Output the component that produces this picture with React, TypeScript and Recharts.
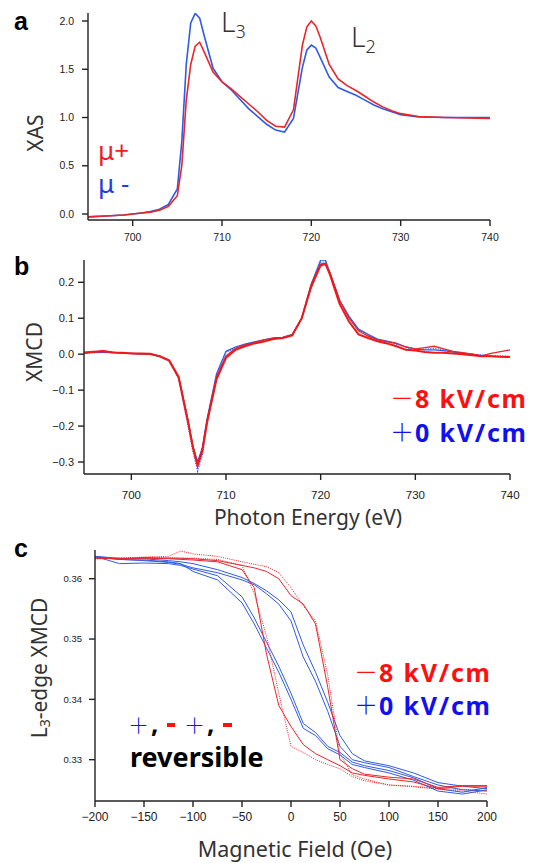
import React from 'react';
import { LineChart, Line, XAxis, YAxis } from 'recharts';

// ---------- Panel a: XAS ----------
const energyA = [695, 697, 699, 700, 701, 702, 703, 704, 705, 705.5, 706, 706.5, 707, 707.5, 708, 709, 710, 711, 712, 713, 714, 715, 716, 717, 718, 719, 719.5, 720, 720.5, 721, 722, 723, 724, 725, 726, 727, 728, 729, 730, 732, 735, 740];
const muPlus = [-0.03, -0.02, -0.01, 0.0, 0.01, 0.02, 0.04, 0.08, 0.19, 0.5, 1.18, 1.55, 1.74, 1.78, 1.68, 1.47, 1.37, 1.3, 1.22, 1.14, 1.06, 0.97, 0.91, 0.9, 1.08, 1.75, 1.94, 2.0, 1.95, 1.83, 1.55, 1.4, 1.33, 1.28, 1.22, 1.16, 1.11, 1.07, 1.04, 1.01, 1.0, 0.99];
const muMinus = [-0.03, -0.02, -0.01, 0.0, 0.01, 0.025, 0.05, 0.1, 0.26, 0.75, 1.55, 1.98, 2.08, 2.03, 1.85, 1.51, 1.37, 1.29, 1.19, 1.09, 1.01, 0.93, 0.87, 0.85, 0.99, 1.52, 1.7, 1.75, 1.72, 1.62, 1.42, 1.31, 1.27, 1.23, 1.18, 1.13, 1.09, 1.06, 1.03, 1.005, 1.0, 1.0];

// ---------- Panel b: XMCD ----------
const energyB = [695, 696, 697, 698, 699, 700, 701, 702, 703, 704, 705, 706, 706.5, 707, 707.5, 708, 709, 710, 711, 712, 713, 714, 715, 716, 717, 718, 719, 720, 720.5, 721, 722, 723, 724, 725, 726, 727, 728, 729, 730, 731, 732, 733, 734, 735, 736, 737, 738, 739, 740];
const xmcdRedA = [0.005, 0.007, 0.008, 0.005, 0.004, 0.002, 0.002, 0.001, -0.006, -0.018, -0.065, -0.19, -0.26, -0.31, -0.27, -0.19, -0.07, -0.01, 0.012, 0.022, 0.03, 0.035, 0.042, 0.045, 0.052, 0.1, 0.19, 0.25, 0.252, 0.22, 0.14, 0.09, 0.055, 0.045, 0.036, 0.03, 0.022, 0.012, 0.01, 0.006, 0.004, 0.004, 0.002, 0.0, -0.003, -0.006, -0.006, -0.007, -0.008];
const xmcdRedB = [0.004, 0.006, 0.01, 0.006, 0.003, 0.002, 0.001, 0.0, -0.005, -0.016, -0.062, -0.185, -0.255, -0.305, -0.265, -0.185, -0.065, -0.005, 0.016, 0.026, 0.032, 0.04, 0.044, 0.047, 0.054, 0.1, 0.185, 0.245, 0.25, 0.225, 0.15, 0.1, 0.065, 0.05, 0.04, 0.035, 0.03, 0.02, 0.015, 0.018, 0.022, 0.015, 0.008, 0.004, 0.0, -0.005, 0.002, 0.007, 0.012];
const xmcdBlueA = [0.003, 0.005, 0.006, 0.005, 0.003, 0.002, 0.001, 0.0, -0.006, -0.017, -0.063, -0.19, -0.255, -0.3, -0.26, -0.18, -0.055, 0.008, 0.02, 0.028, 0.034, 0.04, 0.045, 0.047, 0.055, 0.1, 0.195, 0.262, 0.262, 0.225, 0.15, 0.105, 0.07, 0.055, 0.042, 0.036, 0.03, 0.02, 0.014, 0.012, 0.012, 0.01, 0.006, 0.003, 0.0, -0.004, -0.006, -0.007, -0.008];
const xmcdBlueB = [0.002, 0.004, 0.005, 0.004, 0.003, 0.002, 0.0, -0.001, -0.007, -0.019, -0.068, -0.2, -0.27, -0.325, -0.28, -0.19, -0.06, 0.005, 0.018, 0.027, 0.033, 0.039, 0.044, 0.046, 0.053, 0.098, 0.19, 0.255, 0.258, 0.222, 0.148, 0.102, 0.068, 0.052, 0.04, 0.034, 0.028, 0.019, 0.013, 0.014, 0.016, 0.012, 0.007, 0.003, 0.0, -0.002, -0.004, -0.005, -0.006];

// ---------- Panel c: hysteresis ----------
const fieldC = [-200, -175, -150, -125, -112.5, -100, -75, -50, -37.5, -25, -12.5, 0, 12.5, 25, 37.5, 50, 62.5, 75, 100, 125, 150, 175, 200];
const redLoop1Up = [0.3634, 0.3633, 0.3635, 0.3634, 0.3634, 0.3633, 0.363, 0.3622, 0.3618, 0.3612, 0.36, 0.3572, 0.3558, 0.3525, 0.342, 0.33, 0.3285, 0.3276, 0.3271, 0.3268, 0.3254, 0.3257, 0.3257];
const redLoop1Down = [0.3634, 0.3633, 0.3634, 0.3633, 0.3632, 0.3631, 0.3628, 0.3615, 0.3585, 0.3475, 0.339, 0.3355, 0.3325, 0.331, 0.33, 0.329, 0.3278, 0.3274, 0.3268, 0.3263, 0.3252, 0.3256, 0.3256];
const redLoop2Up = [0.3633, 0.3634, 0.3636, 0.3637, 0.3646, 0.3641, 0.3637, 0.3628, 0.3624, 0.362, 0.361, 0.3585, 0.3555, 0.353, 0.344, 0.331, 0.3275, 0.3268, 0.3258, 0.3255, 0.3251, 0.3248, 0.3243];
const redLoop2Down = [0.3633, 0.3634, 0.3635, 0.3635, 0.3634, 0.3634, 0.3632, 0.3622, 0.3575, 0.3505, 0.341, 0.3322, 0.3312, 0.33, 0.3292, 0.3285, 0.3272, 0.3265, 0.3258, 0.3256, 0.3252, 0.3251, 0.3249];
const blueLoop1Up = [0.3637, 0.3634, 0.3633, 0.363, 0.3628, 0.3625, 0.3615, 0.3602, 0.3592, 0.358, 0.3565, 0.3545, 0.349, 0.3445, 0.3395, 0.334, 0.331, 0.3298, 0.329, 0.3278, 0.3262, 0.3256, 0.3252];
const blueLoop1Down = [0.3637, 0.3625, 0.3626, 0.3625, 0.3622, 0.3616, 0.3605, 0.357, 0.3535, 0.3495, 0.3455, 0.341, 0.336, 0.3345, 0.3322, 0.3312, 0.3296, 0.329, 0.3282, 0.327, 0.3252, 0.3246, 0.3254];
const blueLoop2Up = [0.3636, 0.3632, 0.363, 0.3627, 0.3624, 0.3618, 0.361, 0.3598, 0.359, 0.3575, 0.3558, 0.353, 0.347, 0.343, 0.338, 0.3322, 0.33, 0.3295, 0.3287, 0.3272, 0.3258, 0.325, 0.3248];
const blueLoop2Down = [0.3637, 0.3632, 0.3631, 0.3628, 0.3625, 0.3612, 0.3598, 0.356, 0.3525, 0.3485, 0.3445, 0.34, 0.3352, 0.334, 0.3318, 0.3308, 0.3292, 0.3287, 0.3278, 0.3266, 0.3248, 0.3243, 0.325];

// ---------- ticks ----------
const energyTicks = [700, 710, 720, 730, 740];
const xasTicks = [0, 0.5, 1.0, 1.5, 2.0];
const xmcdTicks = [-0.3, -0.2, -0.1, 0, 0.1, 0.2];
const fieldTicks = [-200, -150, -100, -50, 0, 50, 100, 150, 200];
const l3Ticks = [0.33, 0.34, 0.35, 0.36];

const dataA = energyA.map((e, i) => ({ e, plus: muPlus[i], minus: muMinus[i] }));
const dataB = energyB.map((e, i) => ({ e, r1: xmcdRedA[i], r2: xmcdRedB[i], b1: xmcdBlueA[i], b2: xmcdBlueB[i] }));
const dataC = fieldC.map((f, i) => ({
  f,
  r1u: redLoop1Up[i], r1d: redLoop1Down[i], r2u: redLoop2Up[i], r2d: redLoop2Down[i],
  b1u: blueLoop1Up[i], b1d: blueLoop1Down[i], b2u: blueLoop2Up[i], b2d: blueLoop2Down[i],
}));

const AX = '#222';
const TICKFONT = 'Liberation Sans, Arial, sans-serif';
const TITLEFONT = 'Noto Sans, sans-serif';
const CJK = 'Noto Sans CJK JP, sans-serif';
const RED_LINE = '#e8262c';
const BLUE_LINE = '#2f5be6';
const RED_TXT = '#ff1010';
const BLUE_TXT = '#1010f0';

const minusFmt = (v: number, d: number) => (v < 0 ? '\u2212' + Math.abs(v).toFixed(d) : v.toFixed(d));

const axisCommon = {
  axisLine: { stroke: AX, strokeWidth: 1.4 },
  tickLine: { stroke: AX, strokeWidth: 1.4 },
  tickSize: 6,
};

function Legend({ x, y1, y2 }: { x: number; y1: number; y2: number }) {
  return (
    <g>
      <text x={x - 2} y={y1 - 1} fontFamily={CJK} fontWeight={300} fontSize={24} fill={RED_TXT}>{'\uFF0D'}</text>
      <text x={x + 23} y={y1} fontFamily={TITLEFONT} fontWeight={700} fontSize={25} fill={RED_TXT}
        textLength={111} lengthAdjust="spacing">8 kV/cm</text>
      <text x={x - 2} y={y2 - 1} fontFamily={CJK} fontWeight={300} fontSize={24} fill={BLUE_TXT}>{'\uFF0B'}</text>
      <text x={x + 23} y={y2} fontFamily={TITLEFONT} fontWeight={700} fontSize={25} fill={BLUE_TXT}
        textLength={111} lengthAdjust="spacing">0 kV/cm</text>
    </g>
  );
}

export default function App() {
  return (
    <div style={{ position: 'absolute', left: 0, top: 0, width: 534, height: 863, background: '#fff' }}>
      {/* Panel a */}
      <div style={{ position: 'absolute', left: 0, top: 0 }}>
        <LineChart width={534} height={260} data={dataA} margin={{ top: 13, right: 44, left: 0, bottom: 0 }}>
          <XAxis dataKey="e" type="number" domain={[695, 740]} ticks={energyTicks} allowDataOverflow
            {...axisCommon} tickMargin={8} height={40}
            tick={{ fill: AX, fontSize: 10.5, fontFamily: TICKFONT }} />
          <YAxis type="number" domain={[-0.062, 2.083]} ticks={xasTicks} allowDataOverflow
            {...axisCommon} tickMargin={8} width={88}
            tickFormatter={(v: number) => v.toFixed(1)}
            tick={{ fill: AX, fontSize: 10.5, fontFamily: TICKFONT }}
            label={{ content: () => (
              <text x={35} y={133} transform="rotate(-90 35 133)" textAnchor="middle" dominantBaseline="central"
                fontFamily={TITLEFONT} fontSize={21} fill="#333">XAS</text>
            ) }} />
          <Line dataKey="minus" stroke={BLUE_LINE} strokeWidth={1.6} dot={false} isAnimationActive={false} />
          <Line dataKey="plus" stroke={RED_LINE} strokeWidth={1.6} dot={false} isAnimationActive={false} />
        </LineChart>
      </div>

      {/* Panel b */}
      <div style={{ position: 'absolute', left: 0, top: 245 }}>
        <LineChart width={534} height={290} data={dataB} margin={{ top: 15, right: 24, left: 0, bottom: 0 }}>
          <XAxis dataKey="e" type="number" domain={[695, 740]} ticks={energyTicks} allowDataOverflow
            {...axisCommon} tickMargin={11} height={61}
            tick={{ fill: AX, fontSize: 11.5, fontFamily: TICKFONT }}
            label={{ content: () => (
              <text x={308} y={280} textAnchor="middle" fontFamily={TITLEFONT} fontSize={21} fill="#333">Photon Energy (eV)</text>
            ) }} />
          <YAxis type="number" domain={[-0.3333, 0.262]} ticks={xmcdTicks} allowDataOverflow
            {...axisCommon} tickMargin={4} width={84}
            tickFormatter={(v: number) => minusFmt(v, 1)}
            tick={{ fill: AX, fontSize: 11, fontFamily: TICKFONT }}
            label={{ content: () => (
              <text x={34} y={107} transform="rotate(-90 34 107)" textAnchor="middle" dominantBaseline="central"
                fontFamily={TITLEFONT} fontSize={21} fill="#333">XMCD</text>
            ) }} />
          <Line dataKey="b2" stroke={BLUE_LINE} strokeWidth={1.4} strokeDasharray="1 1.5" dot={false} isAnimationActive={false} />
          <Line dataKey="b1" stroke={BLUE_LINE} strokeWidth={1.3} dot={false} isAnimationActive={false} />
          <Line dataKey="r2" stroke={RED_LINE} strokeWidth={1.3} dot={false} isAnimationActive={false} />
          <Line dataKey="r1" stroke="#f01818" strokeWidth={2} dot={false} isAnimationActive={false} />
        </LineChart>
      </div>

      {/* Panel c */}
      <div style={{ position: 'absolute', left: 0, top: 535 }}>
        <LineChart width={534} height={328} data={dataC} margin={{ top: 15, right: 47, left: 0, bottom: 0 }}>
          <XAxis dataKey="f" type="number" domain={[-200, 200]} ticks={fieldTicks} allowDataOverflow
            {...axisCommon} tickMargin={5} height={62}
            tickFormatter={(v: number) => minusFmt(v, 0)}
            tick={{ fill: AX, fontSize: 12, fontFamily: TICKFONT }}
            label={{ content: () => (
              <text x={295} y={322} textAnchor="middle" fontFamily={TITLEFONT} fontSize={21.5} fill="#333">Magnetic Field (Oe)</text>
            ) }} />
          <YAxis type="number" domain={[0.32315, 0.36476]} ticks={l3Ticks} allowDataOverflow
            {...axisCommon} tickMargin={7} width={95}
            tickFormatter={(v: number) => v.toFixed(2)}
            tick={{ fill: AX, fontSize: 9.5, fontFamily: TICKFONT }}
            label={{ content: () => (
              <text x={39} y={133} transform="rotate(-90 39 133)" textAnchor="middle" dominantBaseline="central"
                fontFamily={TITLEFONT} fontSize={21} fill="#333">
                L<tspan fontSize={14} dy={5}>3</tspan><tspan dy={-5}>-edge XMCD</tspan>
              </text>
            ) }} />
          <Line dataKey="b1u" stroke={BLUE_LINE} strokeWidth={1} dot={false} isAnimationActive={false} />
          <Line dataKey="b1d" stroke={BLUE_LINE} strokeWidth={1} dot={false} isAnimationActive={false} />
          <Line dataKey="b2u" stroke={BLUE_LINE} strokeWidth={1} dot={false} isAnimationActive={false} />
          <Line dataKey="b2d" stroke={BLUE_LINE} strokeWidth={1} dot={false} isAnimationActive={false} />
          <Line dataKey="r1u" stroke={RED_LINE} strokeWidth={1} dot={false} isAnimationActive={false} />
          <Line dataKey="r1d" stroke={RED_LINE} strokeWidth={1} dot={false} isAnimationActive={false} />
          <Line dataKey="r2u" stroke={RED_LINE} strokeWidth={1} strokeDasharray="1 1.2" dot={false} isAnimationActive={false} />
          <Line dataKey="r2d" stroke={RED_LINE} strokeWidth={1} strokeDasharray="1 1.2" dot={false} isAnimationActive={false} />
        </LineChart>
      </div>

      {/* Annotations */}
      <svg width={534} height={863} style={{ position: 'absolute', left: 0, top: 0, pointerEvents: 'none' }}>
        <g fontFamily="Liberation Sans, Arial, sans-serif" fontWeight={700} fontSize={25} fill="#000">
          <text x={14} y={30}>a</text>
          <text x={14} y={275}>b</text>
          <text x={14} y={557}>c</text>
        </g>
        <g fontFamily={TITLEFONT} fill="#333">
          <text x={221} y={32} fontSize={28} fontWeight={300}>L<tspan fontSize={18} dy={6}>3</tspan></text>
          <text x={351} y={47} fontSize={28} fontWeight={300}>L<tspan fontSize={18} dy={6}>2</tspan></text>
        </g>
        <g fontFamily={TITLEFONT} fontSize={26}>
          <text x={98} y={160} fill="#ee1c24">μ+</text>
          <text x={98} y={193} fill="#1e3ce6">μ -</text>
        </g>
        <Legend x={392} y1={408} y2={442} />
        <Legend x={356} y1={682} y2={715} />
        <g>
          <text x={128} y={733} fontFamily={CJK} fontWeight={300} fontSize={21} fill={BLUE_TXT}>{'\uFF0B'}</text>
          <text x={151} y={733} fontFamily={TITLEFONT} fontWeight={700} fontSize={26} fill="#000">,</text>
          <rect x={167} y={723} width={8} height={4} fill={RED_TXT} />
          <text x={184} y={733} fontFamily={CJK} fontWeight={300} fontSize={21} fill={BLUE_TXT}>{'\uFF0B'}</text>
          <text x={207} y={733} fontFamily={TITLEFONT} fontWeight={700} fontSize={26} fill="#000">,</text>
          <rect x={223} y={723} width={9} height={4} fill={RED_TXT} />
          <text x={130} y={767} fontFamily={TITLEFONT} fontWeight={700} fontSize={27} fill="#000">reversible</text>
        </g>
      </svg>
    </div>
  );
}
